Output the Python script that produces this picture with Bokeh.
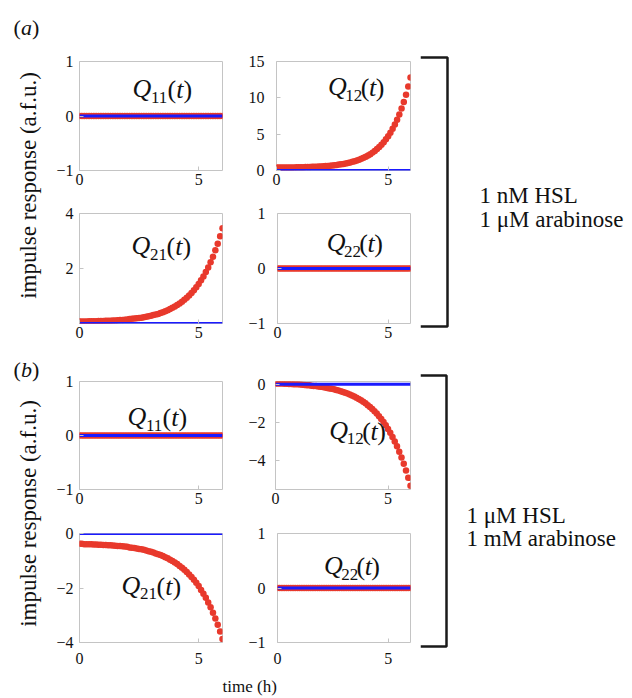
from bokeh.plotting import figure
from bokeh.layouts import row, column
from bokeh.models import Range1d, FixedTicker
from bokeh.core.properties import value
from bokeh.embed import file_html
from bokeh.resources import INLINE

SERIF = "'Liberation Serif', 'Times New Roman', serif"
RED = "#e8392c"
BLUE = "#1a1aff"
FRAME = "#c4c4c4"
INK = "#111111"

# ---------------- data ----------------
time_h = [0.0, 0.1, 0.2, 0.3, 0.4, 0.5, 0.6, 0.7, 0.8, 0.9,
          1.0, 1.1, 1.2, 1.3, 1.4, 1.5, 1.6, 1.7, 1.8, 1.9,
          2.0, 2.1, 2.2, 2.3, 2.4, 2.5, 2.6, 2.7, 2.8, 2.9,
          3.0, 3.1, 3.2, 3.3, 3.4, 3.5, 3.6, 3.7, 3.8, 3.9,
          4.0, 4.1, 4.2, 4.3, 4.4, 4.5, 4.6, 4.7, 4.8, 4.9,
          5.0, 5.1, 5.2, 5.3, 5.4, 5.5, 5.6, 5.7, 5.8, 5.9, 6.0]

zero_response = [0.0] * len(time_h)
baseline_blue = [0.0] * len(time_h)

# (a) 1 nM HSL, 1 uM arabinose
q11_a = zero_response
q12_a = [0.40, 0.40, 0.41, 0.41, 0.41, 0.42, 0.42, 0.42, 0.43, 0.44,
         0.44, 0.45, 0.46, 0.47, 0.48, 0.49, 0.50, 0.51, 0.53, 0.54,
         0.56, 0.58, 0.61, 0.63, 0.66, 0.69, 0.73, 0.77, 0.81, 0.86,
         0.91, 0.97, 1.03, 1.11, 1.19, 1.28, 1.38, 1.49, 1.61, 1.75,
         1.90, 2.07, 2.25, 2.46, 2.69, 2.95, 3.23, 3.55, 3.90, 4.29,
         4.72, 5.20, 5.74, 6.33, 6.99, 7.72, 8.54, 9.44, 10.44, 11.56, 12.79]
q21_a = [0.07, 0.07, 0.07, 0.07, 0.08, 0.08, 0.08, 0.08, 0.09, 0.09,
         0.09, 0.10, 0.10, 0.10, 0.11, 0.11, 0.12, 0.13, 0.13, 0.14,
         0.15, 0.16, 0.17, 0.18, 0.19, 0.20, 0.21, 0.23, 0.25, 0.26,
         0.28, 0.31, 0.33, 0.35, 0.38, 0.41, 0.45, 0.48, 0.53, 0.57,
         0.62, 0.67, 0.73, 0.79, 0.86, 0.94, 1.02, 1.11, 1.21, 1.32,
         1.44, 1.57, 1.71, 1.87, 2.04, 2.23, 2.43, 2.66, 2.90, 3.17, 3.46]
q22_a = zero_response

# (b) 1 uM HSL, 1 mM arabinose
q11_b = zero_response
q12_b = [0.05, 0.05, 0.04, 0.04, 0.03, 0.03, 0.02, 0.02, 0.01, 0.00,
         0.00, -0.01, -0.02, -0.03, -0.04, -0.05, -0.07, -0.08, -0.09, -0.11,
         -0.13, -0.14, -0.16, -0.19, -0.21, -0.23, -0.26, -0.29, -0.32, -0.36,
         -0.40, -0.44, -0.48, -0.53, -0.58, -0.64, -0.70, -0.76, -0.83, -0.91,
         -0.99, -1.09, -1.18, -1.29, -1.41, -1.53, -1.67, -1.81, -1.97, -2.14,
         -2.33, -2.53, -2.75, -2.99, -3.24, -3.52, -3.82, -4.15, -4.50, -4.89, -5.30]
q21_b = [-0.38, -0.38, -0.39, -0.39, -0.39, -0.39, -0.40, -0.40, -0.41, -0.41,
         -0.42, -0.42, -0.43, -0.43, -0.44, -0.45, -0.46, -0.46, -0.47, -0.48,
         -0.49, -0.51, -0.52, -0.53, -0.55, -0.57, -0.58, -0.60, -0.62, -0.65,
         -0.67, -0.70, -0.73, -0.76, -0.79, -0.83, -0.87, -0.91, -0.96, -1.01,
         -1.06, -1.12, -1.19, -1.26, -1.33, -1.41, -1.50, -1.60, -1.70, -1.81,
         -1.93, -2.07, -2.21, -2.36, -2.53, -2.71, -2.91, -3.12, -3.35, -3.60, -3.87]
q22_b = zero_response

x_ticks = [0, 5]
panel_titles = ["(a)", "(b)"]
y_title = "impulse response (a.f.u.)"
x_title = "time (h)"
conditions_a = ["1 nM HSL", "1 \u03bcM arabinose"]
conditions_b = ["1 \u03bcM HSL", "1 mM arabinose"]


def minus(v):
    return ("\u2212" + str(abs(v))) if v < 0 else str(v)


def panel(red, sub, w, h, bl, br, bt, bb, yr, yt, ystand, xstand, qpos):
    p = figure(width=w, height=h, x_range=Range1d(0, 6), y_range=Range1d(*yr),
               output_backend="svg", toolbar_location=None, tools="",
               min_border_left=bl, min_border_right=br,
               min_border_top=bt, min_border_bottom=bb)
    p.outline_line_color = FRAME
    p.outline_line_width = 1
    p.grid.visible = False
    p.background_fill_color = "white"
    p.border_fill_color = "white"
    for ax in (p.xaxis[0], p.yaxis[0]):
        ax.axis_line_color = None
        ax.major_tick_in = 4
        ax.major_tick_out = 0
        ax.major_tick_line_color = FRAME
        ax.minor_tick_line_color = None
        ax.major_label_text_font = SERIF
        ax.major_label_text_font_size = "16px"
        ax.major_label_text_color = INK
    p.xaxis.ticker = FixedTicker(ticks=x_ticks)
    p.xaxis.major_label_standoff = xstand
    p.yaxis.ticker = FixedTicker(ticks=yt)
    p.yaxis.major_label_overrides = {v: minus(v) for v in yt}
    p.yaxis.major_label_standoff = ystand

    p.scatter(time_h, red, marker="circle", size=6.5, fill_color=RED,
              line_color=None)
    p.line(time_h, baseline_blue, line_color=BLUE, line_width=3)

    fw = w - bl - br
    fh = h - bt - bb
    x0, x1 = 0, 6
    y0, y1 = yr

    def dx(px):
        return x0 + px / fw * (x1 - x0)

    def dy(py):
        return y1 - py / fh * (y1 - y0)

    rx, ry = qpos
    parts = [("Q", 0, 0, "26px", "italic"),
             (sub, 18.5, 9, "17px", "normal"),
             ("(", 35, 1, "26px", "normal"),
             ("t", 43.7, 1, "26px", "italic"),
             (")", 50.9, 1, "26px", "normal")]
    for txt, ox, oy, size, style in parts:
        p.text(x=[dx(rx + ox)], y=[dy(ry + oy)], text=[txt],
               text_font=value(SERIF), text_font_size=value(size),
               text_font_style=value(style), text_align="left",
               text_baseline="middle", text_color=INK)
    return p


a11 = panel(q11_a, "11", 195, 192, 29, 23, 61, 22, (-1, 1), [-1, 0, 1], 6, 3, (53, 26.5))
a12 = panel(q12_a, "12", 175, 192, 22, 10, 61, 22, (0, 15), [0, 5, 10, 15], 12, 3, (55, 25))
a21 = panel(q21_a, "21", 195, 160, 29, 23, 21, 29, (0, 4), [2, 4], 6, 3, (52, 32))
a22 = panel(q22_a, "22", 175, 160, 22, 10, 21, 29, (-1, 1), [-1, 0, 1], 12, 3, (53, 28.5))
b11 = panel(q11_b, "11", 195, 158, 29, 23, 29, 21, (-1, 1), [-1, 0, 1], 6, 3, (48, 35))
b12 = panel(q12_b, "12", 175, 158, 22, 10, 27, 21, (-5.5, 0.15), [-4, -2, 0], 10, 3, (57, 49.5))
b21 = panel(q21_b, "21", 195, 164, 29, 23, 22, 32, (-4, 0), [-4, -2, 0], 6, 10, (42, 52))
b22 = panel(q22_b, "22", 175, 164, 22, 10, 23, 31, (-1, 1), [-1, 0, 1], 12, 10, (50, 32))


def canvas(w, h):
    c = figure(width=w, height=h, x_range=Range1d(0, w), y_range=Range1d(h, 0),
               output_backend="svg", toolbar_location=None, tools="",
               x_axis_type=None, y_axis_type=None, min_border=0,
               min_border_left=0, min_border_right=0,
               min_border_top=0, min_border_bottom=0)
    c.outline_line_color = None
    c.grid.visible = False
    return c


# left strip: panel letters and y titles
left = canvas(50, 698)
for title, cy in zip(panel_titles, [27, 369]):
    letter = title[1]
    left.text(x=[13], y=[cy], text=["("], text_font=value(SERIF),
              text_font_size=value("22px"), text_baseline="middle", text_color=INK)
    left.text(x=[20.5], y=[cy], text=[letter], text_font=value(SERIF),
              text_font_size=value("22px"), text_font_style=value("italic"),
              text_baseline="middle", text_color=INK)
    left.text(x=[31.5], y=[cy], text=[")"], text_font=value(SERIF),
              text_font_size=value("22px"), text_baseline="middle", text_color=INK)
left.text(x=[28, 28], y=[185, 513], text=[y_title, y_title], angle=1.5707963,
          text_font=value(SERIF), text_font_size=value("23px"),
          text_align="center", text_baseline="middle", text_color=INK)

# bottom strip: x title
bottom = canvas(370, 24)
bottom.text(x=[172], y=[12], text=[x_title], text_font=value(SERIF),
            text_font_size=value("17px"), text_align="left",
            text_baseline="middle", text_color=INK)

# right strip: brackets and condition texts
right = canvas(212, 698)
for (top, bot, xr) in [(57, 326, 27), (375, 646, 26)]:
    right.line(x=[0, xr, xr, 0], y=[top, top, bot, bot], line_color="#1a1a1a",
               line_width=2.5)
for lines, lx, ys in [(conditions_a, 59, [195, 219]), (conditions_b, 46, [515, 538])]:
    right.text(x=[lx, lx], y=ys, text=lines, text_font=value(SERIF),
               text_font_size=value("23px"), text_align="left",
               text_baseline="alphabetic", text_color=INK)

middle = column(row(a11, a12), row(a21, a22), row(b11, b12), row(b21, b22), bottom)
layout = row(left, middle, right)

open("out.html", "w").write(file_html(layout, INLINE))
